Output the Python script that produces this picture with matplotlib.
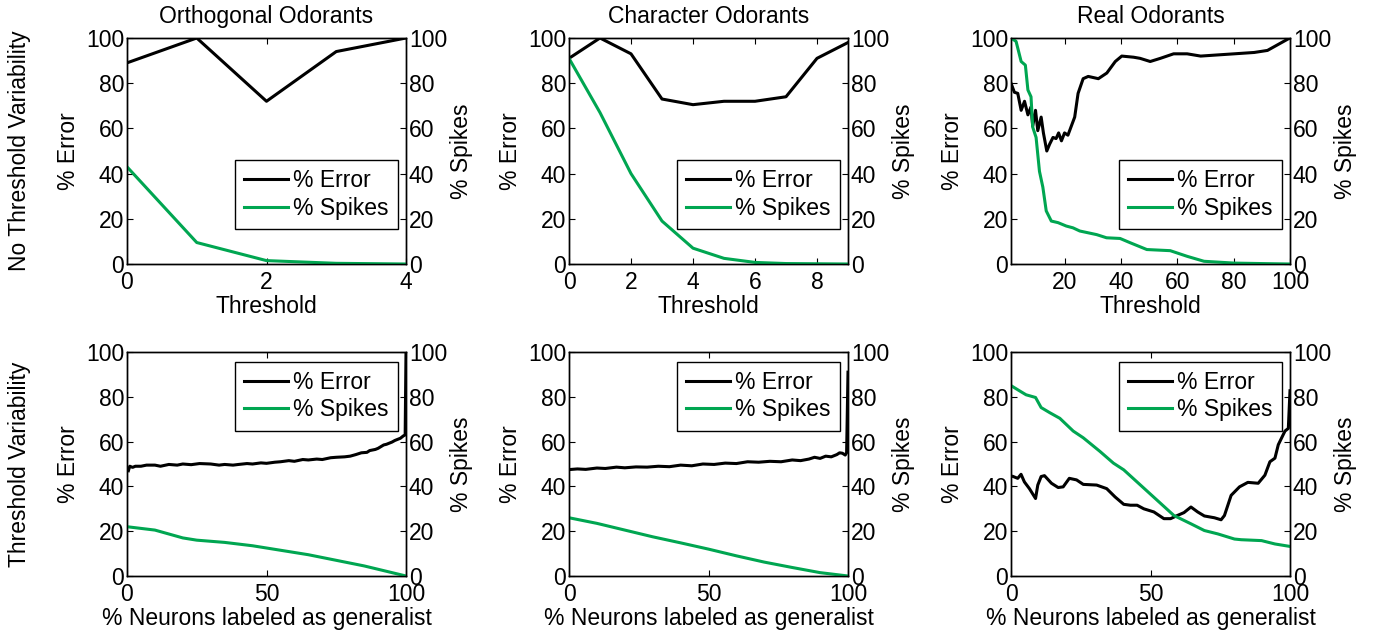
import matplotlib
matplotlib.use("Agg")
import matplotlib.pyplot as plt
from matplotlib.lines import Line2D

plt.rcParams['font.family'] = ['Liberation Sans', 'DejaVu Sans']
FS = 16.5
plt.rcParams['font.size'] = FS

GREEN = '#00A651'

# ---- Data ----
titles = ["Orthogonal Odorants", "Character Odorants", "Real Odorants"]
row_labels = ["No Threshold Variability", "Threshold Variability"]

# Top row: no threshold variability
orth_x = [0, 1, 2, 3, 4]
orth_err = [89, 100, 72, 94, 100]
orth_spk = [43, 9.5, 1.5, 0.3, 0]

char_x = [0, 1, 2, 3, 4, 5, 6, 7, 8, 9]
char_err = [91, 100, 93, 73, 70.5, 72, 72, 74, 91, 98]
char_spk = [91, 67, 40, 19, 7, 2.5, 0.7, 0.2, 0.1, 0]

real_err_x = [1, 2.2, 3.4, 4.6, 5.8, 7, 8.1, 8.7, 9.7, 10.5, 11.7, 12.5, 13.7, 14.7,
              15.9, 17, 17.9, 18.9, 20, 21.2, 22.4, 23.6, 24.8, 26.6, 28.4, 32, 35,
              38, 40.3, 44.5, 46.8, 50.4, 54, 58.7, 63.5, 68.3, 74.2, 80.2, 87.3,
              92, 95.6, 99.2, 100]
real_err = [80, 76, 75.5, 68, 72, 66, 69.5, 61, 68, 59, 65, 58, 50, 53,
            56, 55.5, 58, 54.5, 58, 57, 61, 65, 75.5, 82, 83, 82, 84.5,
            89.6, 92, 91.5, 91, 89.6, 91, 93, 93, 92, 92.5, 93, 93.6,
            94.5, 97, 99.5, 100]
real_spk_x = [1, 2.8, 4.6, 6.1, 7, 8.1, 8.7, 9.9, 11.1, 12.3, 13.5, 15.3, 17.7, 20.6,
              23, 25.4, 31.4, 34.9, 39.7, 43.3, 49.2, 57.5, 63.5, 69.5, 80.2, 92, 100]
real_spk = [100, 98.5, 89.6, 88, 77, 74, 60.6, 56, 41, 34, 23.5, 19, 18.3, 16.8,
            16, 14.6, 13, 11.6, 11.3, 9.4, 6.4, 5.9, 3.4, 1.2, 0.4, 0.15, 0]

# Bottom row: threshold variability
orth_g_x = [0.5, 1, 2, 3, 5, 7, 10, 12, 15, 18, 20, 23, 26, 30, 33, 35, 38, 40, 43,
            45, 48, 50, 53, 55, 58, 60, 63, 65, 68, 70, 73, 75, 78, 80, 82, 84, 86,
            87, 89, 90, 92, 93, 95, 96, 98, 99, 99.7, 100]
orth_g_err = [47, 49, 48.5, 49, 49, 49.5, 49.5, 49, 49.8, 49.5, 50, 49.7, 50.2, 50, 49.5,
              49.8, 49.5, 49.8, 50.2, 50, 50.5, 50.3, 50.8, 51, 51.5, 51.2, 52, 51.8,
              52.2, 52, 52.8, 53, 53.2, 53.5, 54.2, 55, 55.2, 56, 56.5, 57, 58.5, 58.8,
              59.8, 60.5, 61.5, 62.5, 63, 100]
orth_g_spk_x = [0, 10, 20, 25, 35, 45, 55, 65, 75, 85, 95, 100]
orth_g_spk = [22, 20.5, 17, 16, 15, 13.5, 11.5, 9.5, 7, 4.5, 1.5, 0]

char_g_x = [0, 3, 6, 10, 13, 17, 20, 24, 28, 32, 36, 40, 44, 48, 52, 56, 60, 64, 68,
            72, 76, 80, 83, 86, 88, 90, 92, 94, 96, 97, 98, 99, 99.5, 100]
char_g_err = [47.5, 47.8, 47.6, 48.2, 48, 48.6, 48.3, 48.7, 48.6, 49, 48.8, 49.5, 49.2,
              50, 49.8, 50.4, 50.2, 51, 50.8, 51.2, 51, 51.8, 51.5, 52.2, 53, 52.5,
              53.5, 53.2, 54.2, 55, 54.8, 54, 55, 91]
char_g_spk_x = [0, 2, 10, 20, 30, 40, 50, 60, 70, 80, 90, 100]
char_g_spk = [26, 25.5, 23.5, 20.5, 17.5, 14.8, 12, 9, 6.2, 3.8, 1.5, 0]

real_g_x = [0.8, 2.4, 3.6, 4.8, 6.6, 8.8, 9.6, 10.8, 12, 14.5, 16.9, 18.7, 20.9, 23.5,
            25.9, 30.7, 34.3, 37.3, 40.4, 42.8, 45.2, 47.6, 51.2, 54.8, 57.2, 59.6, 62,
            64.5, 66.9, 69.3, 72.9, 75.3, 76.5, 78.9, 81.9, 84.9, 88.6, 91, 92.8, 94.6,
            95.8, 98.2, 99.4, 100]
real_g_err = [44.4, 43.6, 45.4, 42, 39, 34.6, 40.6, 44.4, 44.8, 41.4, 39.5, 39.8, 43.6,
              42.9, 40.9, 40.6, 39, 35.3, 32, 31.6, 31.6, 30, 28.6, 25.6, 25.6, 27, 28.3,
              30.8, 28.6, 26.8, 26, 25.1, 27, 36, 39.8, 41.8, 41.4, 45, 51, 52.6,
              58.6, 64.7, 65.9, 82.7]
real_g_spk_x = [0, 3, 5.4, 8.8, 10.8, 13.9, 17.5, 22.3, 25.9, 31.9, 36.7, 40.4, 46.4,
                52.4, 58.4, 64.5, 69.3, 74.1, 80.1, 82.5, 89.8, 94.6, 100]
real_g_spk = [85, 82.7, 80.9, 79.7, 75.2, 72.9, 70.4, 64.7, 61.7, 55.6, 50.4, 47.4, 40.6,
              33.8, 27, 23.3, 20.3, 18.8, 16.5, 16.2, 15.8, 14.3, 13.2]

panels = [
    [(orth_x, orth_err, orth_x, orth_spk, (0, 4), [0, 2, 4]),
     (char_x, char_err, char_x, char_spk, (0, 9), [0, 2, 4, 6, 8]),
     (real_err_x, real_err, real_spk_x, real_spk, (1, 100), [20, 40, 60, 80, 100])],
    [(orth_g_x, orth_g_err, orth_g_spk_x, orth_g_spk, (0, 100), [0, 50, 100]),
     (char_g_x, char_g_err, char_g_spk_x, char_g_spk, (0, 100), [0, 50, 100]),
     (real_g_x, real_g_err, real_g_spk_x, real_g_spk, (0, 100), [0, 50, 100])],
]

W, H = 1373, 641
fig = plt.figure(figsize=(W / 100, H / 100), dpi=100)

lefts = [127, 569, 1011]
axw = 279
rows_y = [(38, 264), (352, 576)]

for r in range(2):
    top, bot = rows_y[r]
    for c in range(3):
        ex, ey, sx, sy, xlim, xticks = panels[r][c]
        ax = fig.add_axes([lefts[c] / W, 1 - bot / H, axw / W, (bot - top) / H])
        ax2 = ax.twinx()
        ax.plot(ex, ey, color='black', lw=2.2)
        ax2.plot(sx, sy, color=GREEN, lw=2.2)
        for a in (ax, ax2):
            a.set_xlim(*xlim)
            a.set_ylim(0, 100)
            a.set_yticks([0, 20, 40, 60, 80, 100])
            for s in a.spines.values():
                s.set_linewidth(1.0)
        ax.set_xticks(xticks)
        ax.tick_params(axis='x', direction='in', length=4, width=0.8,
                       labelsize=FS, top=True, pad=5)
        ax.tick_params(axis='y', direction='in', length=4, width=0.8,
                       labelsize=FS, pad=2)
        ax2.tick_params(axis='y', direction='in', length=4, width=0.8,
                        labelsize=FS, pad=2)
        ax.set_ylabel('% Error', fontsize=FS, labelpad=4)
        ax2.set_ylabel('% Spikes', fontsize=FS, labelpad=2)
        if r == 0:
            ax.set_title(titles[c], fontsize=FS, pad=11)
            ax.set_xlabel('Threshold', fontsize=FS, labelpad=1)
            loc, anchor = 'lower right', (0.971, 0.155)
        else:
            ax.set_xlabel('% Neurons labeled as generalist', fontsize=FS, labelpad=1)
            loc, anchor = 'upper right', (0.971, 0.957)
        handles = [Line2D([], [], color='black', lw=2.2),
                   Line2D([], [], color=GREEN, lw=2.2)]
        leg = ax2.legend(handles, ['% Error', '% Spikes'], loc=loc,
                         bbox_to_anchor=anchor, borderaxespad=0, fontsize=FS,
                         handlelength=1.9, handletextpad=0.25, labelspacing=0.2,
                         borderpad=0.4, fancybox=False, framealpha=1,
                         edgecolor='black')
        leg.get_frame().set_linewidth(1.0)
        if c == 0:
            fig.text(20 / W, 1 - (top + bot) / 2 / H, row_labels[r], rotation=90,
                     ha='center', va='center', fontsize=FS)

fig.savefig('out.png', dpi=100)
